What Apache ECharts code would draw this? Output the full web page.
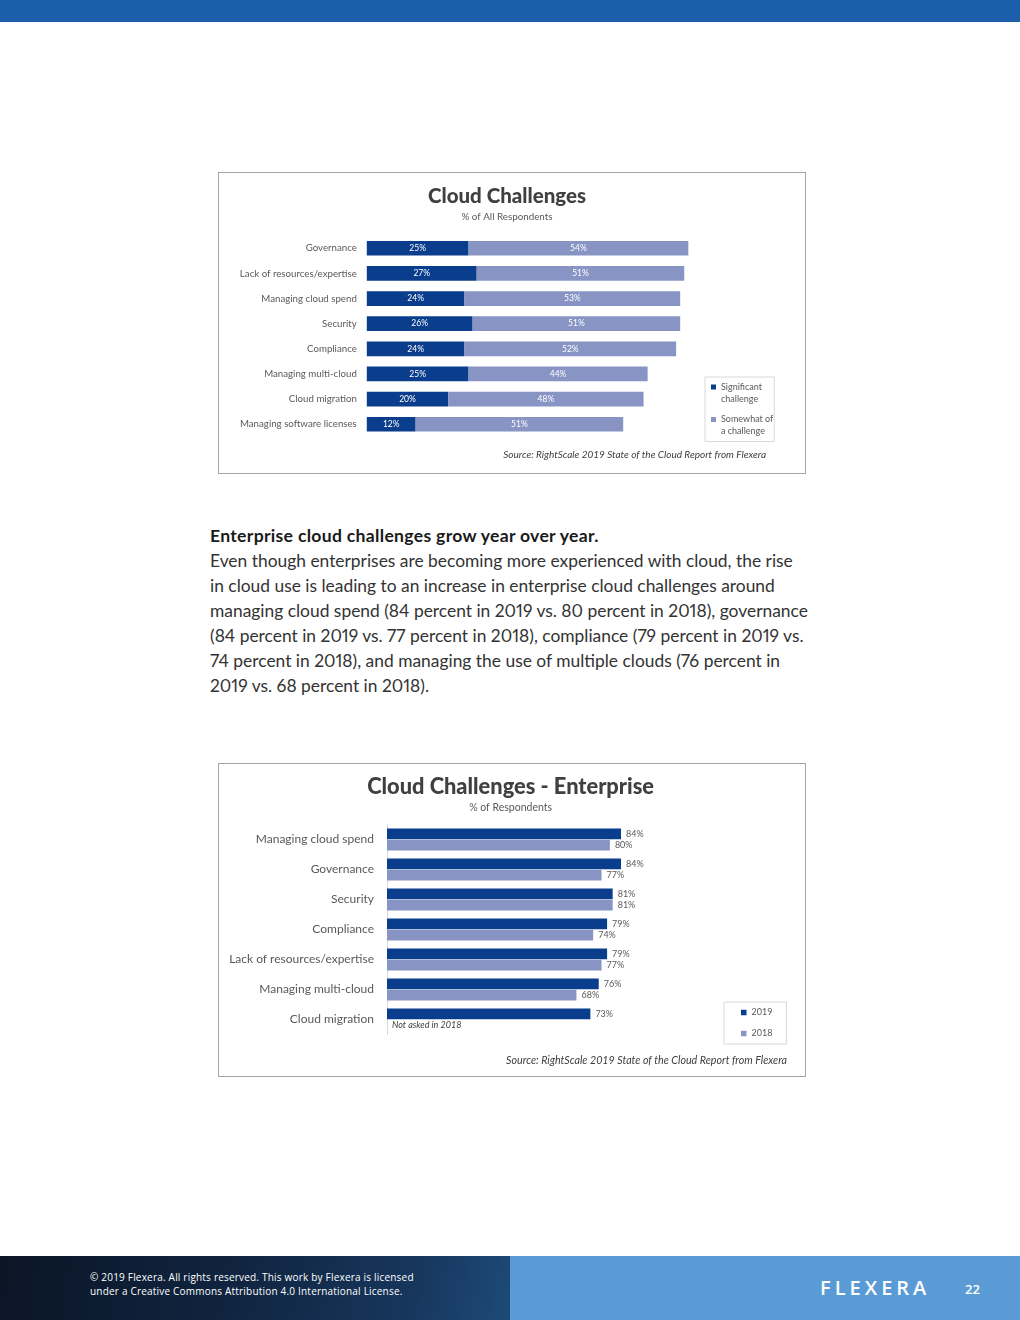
<!DOCTYPE html>
<html><head><meta charset="utf-8">
<script src="https://cdn.jsdelivr.net/npm/echarts@6/dist/echarts.min.js"></script>
<style>
html,body{margin:0;padding:0}
body{width:1020px;height:1320px;position:relative;background:#fff;font-family:Lato,sans-serif;overflow:hidden}
.topbar{position:absolute;left:0;top:0;width:1020px;height:22px;background:#1b5fab}
.box{position:absolute;border:1px solid #a6a6a6;box-sizing:border-box}
.chart{position:absolute}
.para{position:absolute;left:210px;top:523px;font-size:17.4px;line-height:25px;color:#333;white-space:nowrap;font-variant-numeric:proportional-nums;font-feature-settings:"pnum" 1}
.para b{color:#1a1a1a;font-weight:700;font-size:17.6px;letter-spacing:0.3px}
.footL{position:absolute;left:0;top:1256px;width:510px;height:64px;background:linear-gradient(100deg,#0b1526 0%,#10243f 45%,#17365c 80%,#1d4a78 100%)}
.footR{position:absolute;left:510px;top:1256px;width:510px;height:64px;background:#5b9bd5}
.foottext{position:absolute;left:90px;top:1270px;font-family:'Open Sans',sans-serif;font-size:10px;letter-spacing:0.2px;line-height:14px;color:#fff;white-space:nowrap}
.logo{position:absolute;left:820px;top:1277px;font-family:'Open Sans',sans-serif;font-size:20px;font-weight:600;color:#fff;letter-spacing:4px;line-height:22px}
.pagenum{position:absolute;left:965px;top:1280px;font-family:'Open Sans',sans-serif;font-size:13px;font-weight:600;color:#fff;line-height:18px}
</style></head>
<body>
<div class="topbar"></div>
<div class="box" style="left:218px;top:172px;width:588px;height:302px"></div>
<div id="c1" class="chart" style="left:218px;top:172px;width:588px;height:302px"></div>
<div class="para"><b>Enterprise cloud challenges grow year over year.</b><br>
Even though enterprises are becoming more experienced with cloud, the rise<br>
in cloud use is leading to an increase in enterprise cloud challenges around<br>
managing cloud spend (84 percent in 2019 vs. 80 percent in 2018), governance<br>
(84 percent in 2019 vs. 77 percent in 2018), compliance (79 percent in 2019 vs.<br>
74 percent in 2018), and managing the use of multiple clouds (76 percent in<br>
2019 vs. 68 percent in 2018).</div>
<div class="box" style="left:218px;top:763px;width:588px;height:314px"></div>
<div id="c2" class="chart" style="left:218px;top:763px;width:588px;height:314px"></div>
<div class="footL"></div><div class="footR"></div>
<div class="foottext">© 2019 Flexera. All rights reserved. This work by Flexera is licensed<br>under a Creative Commons Attribution 4.0 International License.</div>
<div class="logo">FLEXERA</div>
<div class="pagenum">22</div>
<script>
// ---- Chart 1 data ----
const c1Categories = ['Governance','Lack of resources/expertise','Managing cloud spend','Security','Compliance','Managing multi-cloud','Cloud migration','Managing software licenses'];
const c1Significant = [25,27,24,26,24,25,20,12];
const c1Somewhat = [54,51,53,51,52,44,48,51];
const c1SeriesNames = ['Significant challenge','Somewhat of a challenge'];
const c1LegendLabels = {'Significant challenge':'Significant\nchallenge','Somewhat of a challenge':'Somewhat of\na challenge'};

// ---- Chart 2 data ----
const c2Categories = ['Managing cloud spend','Governance','Security','Compliance','Lack of resources/expertise','Managing multi-cloud','Cloud migration'];
const c2Y2019 = [84,84,81,79,79,76,73];
const c2Y2018 = [80,77,81,74,77,68,null];
const c2SeriesNames = ['2019','2018'];

const DARK = '#0a3d8c', LIGHT = '#8794c4';
const FONT = 'Lato';
const topIcon = 'path://M0,0h0.01v0.01h-0.01z M0,7h10v10h-10z M0,48h0.01v0.01h-0.01z';

const ch1 = echarts.init(document.getElementById('c1'), null, {renderer:'canvas'});
ch1.setOption({
  animation:false,
  textStyle:{fontFamily:FONT},
  title:[
    {text:'Cloud Challenges', left:289, textAlign:'center', top:14, padding:0, textStyle:{fontSize:20.5, fontWeight:900, color:'#404040', fontFamily:FONT}},
    {text:'% of All Respondents', left:289, textAlign:'center', top:39.5, padding:0, textStyle:{fontSize:9.8, fontWeight:'normal', color:'#595959', fontFamily:FONT}},
    {text:'Source: RightScale 2019 State of the Cloud Report from Flexera', right:40, top:278, padding:0, textStyle:{fontSize:10, fontStyle:'italic', fontWeight:'normal', color:'#404040', fontFamily:FONT}}
  ],
  legend:{
    data:c1SeriesNames, orient:'vertical', left:487, top:205,
    borderColor:'#d9d9d9', borderWidth:1, padding:[4,1,4,6],
    itemWidth:5, itemHeight:24, itemGap:8.5, icon:topIcon,
    formatter:n=>c1LegendLabels[n],
    textStyle:{fontSize:9, lineHeight:12, color:'#595959', fontFamily:FONT}
  },
  grid:{left:148.8, top:63.7, width:407, height:201.1, containLabel:false},
  xAxis:{type:'value', min:0, max:100, show:false},
  yAxis:{type:'category', data:c1Categories, inverse:true,
    axisLine:{show:false}, axisTick:{show:false}, splitLine:{show:false},
    axisLabel:{margin:10, fontSize:9.7, color:'#595959', fontFamily:FONT}},
  series:[
    {name:c1SeriesNames[0], type:'bar', stack:'a', data:c1Significant, barWidth:14.7, itemStyle:{color:DARK},
     label:{show:true, position:'inside', formatter:'{c}%', color:'#fff', fontSize:8.5, fontFamily:FONT}},
    {name:c1SeriesNames[1], type:'bar', stack:'a', data:c1Somewhat, barWidth:14.7, itemStyle:{color:LIGHT},
     label:{show:true, position:'inside', formatter:'{c}%', color:'#fff', fontSize:8.5, fontFamily:FONT}}
  ]
});

const ch2 = echarts.init(document.getElementById('c2'), null, {renderer:'canvas'});
const c2Data2018 = c2Y2018.map(v => v == null
  ? {value:0, label:{show:true, position:'right', distance:5, formatter:'Not asked in 2018', fontStyle:'italic', color:'#404040', fontSize:9}}
  : v);
ch2.setOption({
  animation:false,
  textStyle:{fontFamily:FONT},
  title:[
    {text:'Cloud Challenges - Enterprise', left:292.6, textAlign:'center', top:12.5, padding:0, textStyle:{fontSize:21.8, fontWeight:900, color:'#404040', fontFamily:FONT}},
    {text:'% of Respondents', left:292.6, textAlign:'center', top:39, padding:0, textStyle:{fontSize:10.5, fontWeight:'normal', color:'#595959', fontFamily:FONT}},
    {text:'Source: RightScale 2019 State of the Cloud Report from Flexera', right:19, top:292.5, padding:0, textStyle:{fontSize:10.7, fontStyle:'italic', fontWeight:'normal', color:'#404040', fontFamily:FONT}}
  ],
  legend:{
    data:c2SeriesNames, orient:'vertical', left:506, top:239,
    borderColor:'#d9d9d9', borderWidth:1, padding:[6,14,6,17],
    itemWidth:5.5, itemHeight:5.5, itemGap:12, icon:'rect',
    textStyle:{fontSize:9, color:'#595959', fontFamily:FONT}
  },
  grid:{left:169, top:61.5, width:278.6, height:210, containLabel:false},
  xAxis:{type:'value', min:0, max:100, show:false},
  yAxis:{type:'category', data:c2Categories, inverse:true,
    axisLine:{show:true, lineStyle:{color:'#d9d9d9', width:1}}, axisTick:{show:false}, splitLine:{show:false},
    axisLabel:{margin:13, fontSize:12, color:'#595959', fontFamily:FONT}},
  series:[
    {name:c2SeriesNames[0], type:'bar', data:c2Y2019, barWidth:10.8, barGap:'4%', itemStyle:{color:DARK},
     label:{show:true, position:'right', distance:5, formatter:'{c}%', color:'#595959', fontSize:9, fontFamily:FONT}},
    {name:c2SeriesNames[1], type:'bar', data:c2Data2018, barWidth:10.8, barGap:'4%', itemStyle:{color:LIGHT},
     label:{show:true, position:'right', distance:5, formatter:'{c}%', color:'#595959', fontSize:9, fontFamily:FONT}}
  ]
});
</script>
</body></html>
